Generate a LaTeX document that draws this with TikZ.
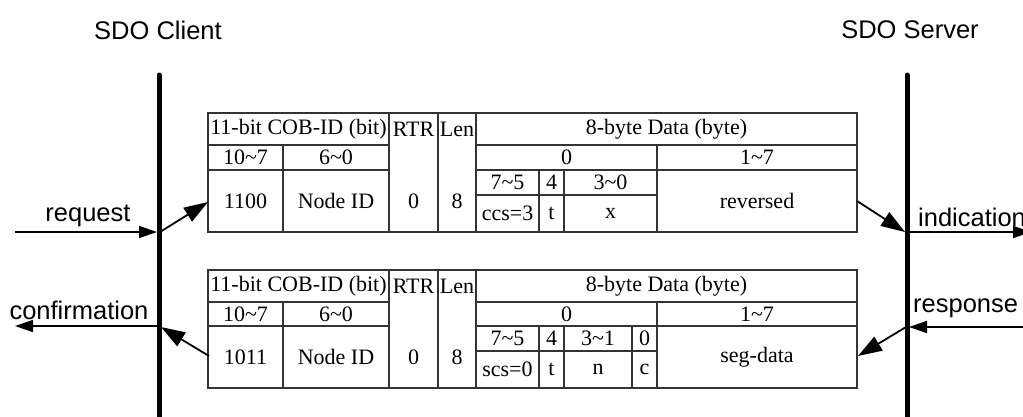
\documentclass[tikz,border=0pt]{standalone}
\usepackage{fontspec}
\setmainfont{Liberation Serif}
\newfontfamily\arialfont{Liberation Sans}
\usetikzlibrary{arrows.meta}
\tikzset{
  grid/.style={draw=black!80, line width=1.2pt},
  cell/.style={inner sep=0pt, font=\fontsize{22}{24}\selectfont},
  lbl/.style={inner sep=0pt, font=\arialfont\fontsize{25.5}{28}\selectfont},
  lifeline/.style={line width=5pt, line cap=round},
  msg/.style={line width=1.5pt, -{Triangle[length=18pt,width=12pt]}},
  diag/.style={line width=1.8pt, -{Triangle[length=24pt,width=16pt]}},
}
\newcommand{\tld}{\textasciitilde}
\begin{document}
\begin{tikzpicture}[x=1pt,y=-1pt]
\useasboundingbox (0,0) rectangle (1023,416);
% titles
\node[lbl] (tclient) at (158,30) {SDO Client};
\node[lbl] (tserver) at (910,30) {SDO Server};
% lifelines
\coordinate (cltop) at (159,75);
\coordinate (clbot) at (159,425);
\coordinate (svtop) at (907,75);
\coordinate (svbot) at (907,425);
\draw[lifeline] (cltop) -- (clbot);
\draw[lifeline] (svtop) -- (svbot);

% ---------- top table (offset 113) ----------
\begin{scope}[yshift=-113pt]
\draw[grid] (208,0) rectangle (857,119);
\draw[grid] (208,32) -- (389,32) (476,32) -- (857,32);
\draw[grid] (208,57) -- (389,57) (476,57) -- (857,57);
\draw[grid] (476,82) -- (657,82);
\draw[grid] (283,32) -- (283,119);
\draw[grid] (389,0) -- (389,119) (438,0) -- (438,119) (476,0) -- (476,119);
\draw[grid] (657,32) -- (657,119);
\draw[grid] (539,57) -- (539,119) (564,57) -- (564,119);
\node[cell] (a1) at (298.5,16) {11-bit COB-ID (bit)};
\node[cell] (a2) at (413.5,16) {RTR};
\node[cell] (a3) at (457,16) {Len};
\node[cell] (a4) at (666.5,16) {8-byte Data (byte)};
\node[cell] (a5) at (245.5,44.5) {10\tld7};
\node[cell] (a6) at (336,44.5) {6\tld0};
\node[cell] (a7) at (566.5,44.5) {0};
\node[cell] (a8) at (757,44.5) {1\tld7};
\node[cell] (a9) at (245.5,88) {1100};
\node[cell] (a10) at (336,88) {Node ID};
\node[cell] (a11) at (413.5,88) {0};
\node[cell] (a12) at (457,88) {8};
\node[cell] (a13) at (507.5,69.5) {7\tld5};
\node[cell] (a14) at (551.5,69.5) {4};
\node[cell] (a15) at (610.5,69.5) {3\tld0};
\node[cell] (a16) at (507.5,100.5) {ccs=3};
\node[cell] (a17) at (551.5,100.5) {t};
\node[cell] (a18) at (610.5,100.5) {x};
\node[cell] (a19) at (757,88) {reversed};
\end{scope}

% ---------- bottom table (offset 270) ----------
\begin{scope}[yshift=-270pt]
\draw[grid] (208,0) rectangle (857,118);
\draw[grid] (208,32) -- (389,32) (476,32) -- (857,32);
\draw[grid] (208,56) -- (389,56) (476,56) -- (857,56);
\draw[grid] (476,81) -- (657,81);
\draw[grid] (283,32) -- (283,118);
\draw[grid] (389,0) -- (389,118) (438,0) -- (438,118) (476,0) -- (476,118);
\draw[grid] (657,32) -- (657,118);
\draw[grid] (539,56) -- (539,118) (564,56) -- (564,118) (632,56) -- (632,118);
\node[cell] (b1) at (298.5,16) {11-bit COB-ID (bit)};
\node[cell] (b2) at (413.5,16) {RTR};
\node[cell] (b3) at (457,16) {Len};
\node[cell] (b4) at (666.5,16) {8-byte Data (byte)};
\node[cell] (b5) at (245.5,44) {10\tld7};
\node[cell] (b6) at (336,44) {6\tld0};
\node[cell] (b7) at (566.5,44) {0};
\node[cell] (b8) at (757,44) {1\tld7};
\node[cell] (b9) at (245.5,87) {1011};
\node[cell] (b10) at (336,87) {Node ID};
\node[cell] (b11) at (413.5,87) {0};
\node[cell] (b12) at (457,87) {8};
\node[cell] (b13) at (507.5,68.5) {7\tld5};
\node[cell] (b14) at (551.5,68.5) {4};
\node[cell] (b15) at (598,68.5) {3\tld1};
\node[cell] (b16) at (644.5,68.5) {0};
\node[cell] (b17) at (507.5,99.5) {scs=0};
\node[cell] (b18) at (551.5,99.5) {t};
\node[cell] (b19) at (598,99.5) {n};
\node[cell] (b20) at (644.5,99.5) {c};
\node[cell] (b21) at (757,87) {seg-data};
\end{scope}

% ---------- connector end points ----------
\coordinate (reqstart) at (15,232);
\coordinate (reqend) at (157,232);
\coordinate (clreq) at (160,232);
\coordinate (tabin) at (208,202);
\coordinate (tabout) at (857,201);
\coordinate (svind) at (905,232);
\coordinate (indstart) at (908,232);
\coordinate (indend) at (1031,232);
\coordinate (respstart) at (1035,327);
\coordinate (respend) at (909,327);
\coordinate (svresp) at (906,327);
\coordinate (tab2in) at (858,356);
\coordinate (tab2out) at (209,356);
\coordinate (clconf) at (161,327);
\coordinate (confstart) at (158,326);
\coordinate (confend) at (15,326);

\draw[msg] (reqstart) -- (reqend);
\draw[diag] (clreq) -- (tabin);
\draw[diag] (tabout) -- (svind);
\draw[msg] (indstart) -- (indend);
\draw[msg] (respstart) -- (respend);
\draw[diag] (svresp) -- (tab2in);
\draw[diag] (tab2out) -- (clconf);
\draw[msg] (confstart) -- (confend);

% labels
\node[lbl] (lreq) at (88,216) {request};
\node[lbl] (lconf) at (79,310) {confirmation};
\node[lbl, anchor=west] (lind) at (918,217) {indication};
\node[lbl, anchor=west] (lresp) at (913,308) {response};
\end{tikzpicture}
\end{document}
